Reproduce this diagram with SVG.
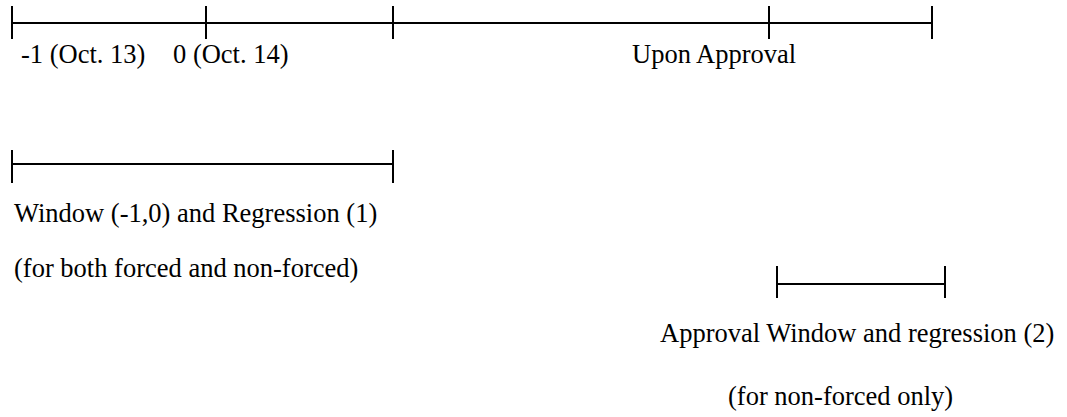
<svg xmlns="http://www.w3.org/2000/svg" width="1067" height="417" viewBox="0 0 1067 417">
<style>
.l{stroke:#000;stroke-width:2;fill:none}
.t{font-family:"Liberation Serif","Times New Roman",serif;font-size:26.5px;fill:#000}
</style>
<rect width="1067" height="417" fill="#fff"/>
<g id="connectors">
<path class="l" d="M12 23H932 M12 6V39 M206 6V39 M393 6V39 M769 6V39 M932 6V39"/>
<path class="l" d="M12 164H393 M12 150V183 M393 150V183"/>
<path class="l" d="M777 284H945 M777 266V298 M945 266V298"/>
</g>
<g id="timeline-labels">
<text class="t" x="21" y="63">-1 (Oct. 13)</text>
<text class="t" x="173" y="63">0 (Oct. 14)</text>
<text class="t" x="632" y="63">Upon Approval</text>
</g>
<g id="window1">
<text class="t" x="14" y="222">Window (-1,0) and Regression (1)</text>
<text class="t" x="14" y="277">(for both forced and non-forced)</text>
</g>
<g id="window2">
<text class="t" x="660" y="342">Approval Window and regression (2)</text>
<text class="t" x="728" y="405">(for non-forced only)</text>
</g>
</svg>
